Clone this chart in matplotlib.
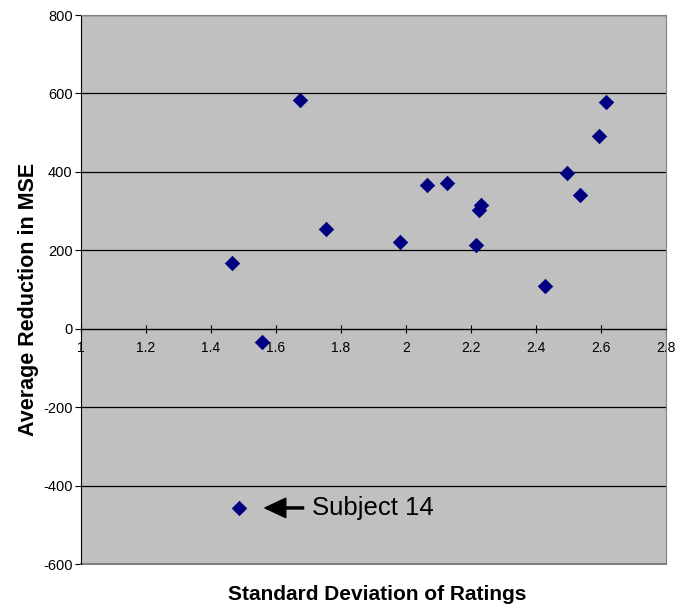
import matplotlib.pyplot as plt

plt.rcParams['font.family'] = ['Liberation Sans', 'DejaVu Sans']

# standard deviation of each subject's ratings vs. average MSE reduction
std_dev = [1.465, 1.557, 1.674, 1.754, 1.980, 2.065, 2.127, 2.232,
           2.225, 2.216, 2.428, 2.495, 2.536, 2.595, 2.614, 1.487]
mse_reduction = [168, -35, 584, 255, 222, 367, 372, 315,
                 303, 214, 110, 397, 340, 492, 577, -457]

x_ticks = [1, 1.2, 1.4, 1.6, 1.8, 2, 2.2, 2.4, 2.6, 2.8]
y_ticks = [-600, -400, -200, 0, 200, 400, 600, 800]

fig = plt.figure(figsize=(6.77, 6.06), dpi=100)
ax = fig.add_axes([0.1196, 0.0693, 0.8642, 0.9059])
ax.set_facecolor('#C0C0C0')

ax.scatter(std_dev, mse_reduction, marker='D', s=62, color='#000080',
           zorder=3, linewidths=0)

ax.set_xlim(1, 2.8)
ax.set_ylim(-600, 800)
ax.set_xticks(x_ticks)
ax.set_xticklabels([f'{t:g}' for t in x_ticks], fontsize=9.5)
ax.set_yticks(y_ticks)
ax.set_yticklabels([str(t) for t in y_ticks], fontsize=10.5)

ax.yaxis.grid(True, color='black', linewidth=0.9)
ax.set_axisbelow(True)

# x axis sits on the zero line
ax.spines['bottom'].set_position(('data', 0))
ax.spines['bottom'].set_color('black')
ax.spines['left'].set_color('black')
ax.spines['top'].set_color('#808080')
ax.spines['right'].set_color('#808080')
ax.axhline(-600, color='#808080', linewidth=1.5, zorder=1, clip_on=False)
ax.tick_params(axis='x', direction='inout', length=6, pad=6)
ax.tick_params(axis='y', direction='out', length=4, pad=2)

ax.set_xlabel('Standard Deviation of Ratings', fontsize=15, fontweight='bold')
ax.xaxis.set_label_coords(0.507, -0.038)
ax.set_ylabel('Average Reduction in MSE', fontsize=15.5, fontweight='bold')
ax.yaxis.set_label_coords(-0.072, 0.482)

# call out the outlier
ax.annotate('', xy=(1.566, -457), xytext=(1.685, -457),
            arrowprops=dict(facecolor='black', edgecolor='black', width=1.5,
                            headwidth=14, headlength=15, shrink=0))
ax.text(1.711, -457, 'Subject 14', fontsize=18.5, va='center', ha='left')

plt.savefig('out.png', dpi=100)
